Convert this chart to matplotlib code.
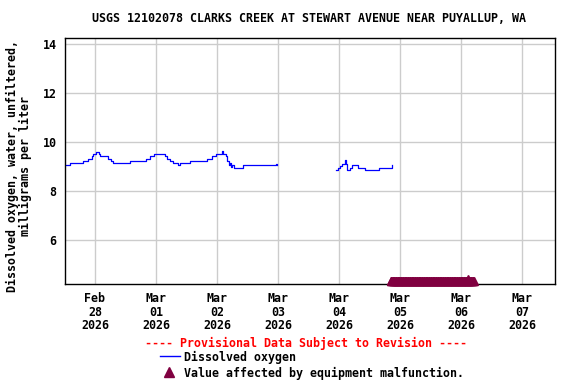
import numpy as np
import matplotlib.pyplot as plt
from matplotlib.lines import Line2D

# hours from Feb 28 2026 00:00, dissolved oxygen (mg/L), step-like record
seg1_hours = [-12.5, -9.6, -4.6, -2.6, -1.3, -0.7, 0.3, 1.7, 2.2, 5.2, 6.2, 7.2,
              13.8, 20.1, 21.6, 23.3, 27.5, 28.4, 29.5, 30.8, 32.8, 33.4,
              37.4, 43.9, 45.9, 47.5, 50.0, 50.3, 51.4, 52.0, 52.6, 53.0, 53.4,
              54.0, 54.7, 58.3, 71.4, 71.7]
seg1_vals = [9.06, 9.14, 9.24, 9.32, 9.42, 9.51, 9.60, 9.51, 9.42, 9.32, 9.24, 9.14,
             9.24, 9.32, 9.42, 9.53, 9.42, 9.32, 9.24, 9.14, 9.06, 9.14,
             9.24, 9.32, 9.42, 9.53, 9.62, 9.53, 9.42, 9.24, 9.06, 9.14, 9.00,
             9.06, 8.92, 9.06, 9.12, 9.06]

seg2_hours = [94.8, 95.7, 96.4, 97.1, 98.2, 98.4, 98.8, 99.0, 100.3, 101.2,
              103.6, 106.2, 111.9, 116.4, 116.7]
seg2_vals = [8.86, 8.94, 9.03, 9.10, 9.15, 9.27, 9.10, 8.86, 8.94, 9.06,
             8.94, 8.86, 8.94, 8.94, 9.06]

# equipment malfunction flags
flag_start, flag_end = 116.3, 149.2
flag_bump = 146.8

days = [0, 1, 2, 3, 4, 5, 6, 7]
day_labels = ["Feb\n28\n2026", "Mar\n01\n2026", "Mar\n02\n2026", "Mar\n03\n2026",
              "Mar\n04\n2026", "Mar\n05\n2026", "Mar\n06\n2026", "Mar\n07\n2026"]
yticks = [6, 8, 10, 12, 14]

plt.rcParams['font.family'] = 'DejaVu Sans Mono'
plt.rcParams['font.weight'] = 'bold'
fs = 8.4

fig = plt.figure(figsize=(5.76, 3.84), dpi=100)
ax = fig.add_axes([65 / 576, 1 - 284 / 384, 490 / 576, 246 / 384])

ax.plot(np.array(seg1_hours) / 24, seg1_vals, color='#0000ff', lw=0.9,
        drawstyle='steps-post')
ax.plot(np.array(seg2_hours) / 24, seg2_vals, color='#0000ff', lw=0.9,
        drawstyle='steps-post')

fx = np.arange(flag_start, flag_end, 0.25) / 24
ax.plot(fx, np.full(len(fx), 4.32), ls='none', marker='^', ms=6,
        color='#800040', clip_on=False, zorder=5)
ax.plot([flag_bump / 24], [4.42], ls='none', marker='^', ms=6,
        color='#800040', clip_on=False, zorder=5)

ax.set_xlim(-0.49, 7.54)
ax.set_ylim(4.2, 14.25)
ax.set_xticks(days)
ax.set_xticklabels(day_labels, fontsize=fs, fontweight='bold', linespacing=1.05)
ax.set_yticks(yticks)
ax.set_yticklabels([str(v) for v in yticks], fontsize=fs, fontweight='bold')
ax.tick_params(length=0, pad=6)
ax.grid(True, color='#cccccc', lw=1)
ax.set_axisbelow(True)
for s in ax.spines.values():
    s.set_linewidth(1)

ax.set_ylabel("Dissolved oxygen, water, unfiltered,\nmilligrams per liter",
              fontsize=fs, fontweight='bold', linespacing=1.0)
ax.yaxis.set_label_coords(-0.068, 0.48)

fig.text(309 / 576, 1 - 19 / 384,
         "USGS 12102078 CLARKS CREEK AT STEWART AVENUE NEAR PUYALLUP, WA",
         ha='center', va='center', fontsize=fs, fontweight='bold')

fig.text(306 / 576, 1 - 343 / 384, "---- Provisional Data Subject to Revision ----",
         ha='center', va='center', fontsize=fs, fontweight='bold', color='red')
fig.add_artist(Line2D([160 / 576, 180 / 576], [1 - 356 / 384] * 2, color='#0000ff', lw=1))
fig.text(184 / 576, 1 - 357 / 384, "Dissolved oxygen", ha='left', va='center',
         fontsize=fs, fontweight='bold')
fig.add_artist(Line2D([169 / 576], [1 - 372 / 384], marker='^', ms=7, color='#800040'))
fig.text(184 / 576, 1 - 373 / 384, "Value affected by equipment malfunction.",
         ha='left', va='center', fontsize=fs, fontweight='bold')

fig.savefig('out.png', dpi=100)
